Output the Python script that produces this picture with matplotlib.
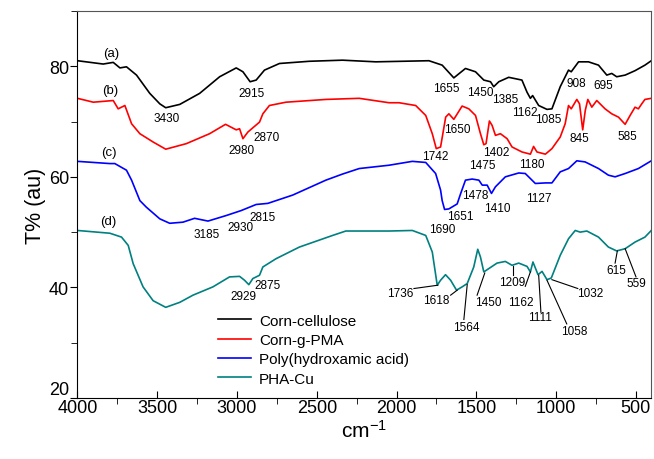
import numpy as np
import matplotlib.pyplot as plt
from matplotlib.ticker import MultipleLocator

plt.rcParams['font.family'] = ['Liberation Sans', 'DejaVu Sans']
plt.rcParams['mathtext.default'] = 'regular'

# Wavenumbers (cm-1) and transmittance
wn_a = [4000, 3839, 3776, 3734, 3693, 3630, 3547, 3484, 3447, 3359, 3234, 3109, 3005, 2963,
        2918, 2880, 2828, 2734, 2547, 2339, 2130, 1797, 1714, 1641, 1568, 1505, 1453, 1411,
        1391, 1359, 1297, 1214, 1182, 1161, 1147, 1109, 1057, 1026, 974, 922, 905, 859, 797,
        734, 682, 651, 620, 567, 505, 443, 403]
t_a = [81.0, 80.4, 80.7, 79.7, 79.9, 78.4, 75.1, 73.2, 72.5, 73.1, 75.1, 78.1, 79.7, 79.0,
       77.2, 77.5, 79.3, 80.5, 80.9, 81.1, 80.8, 81.0, 80.2, 77.9, 79.6, 79.0, 77.5, 77.2,
       76.3, 77.2, 78.0, 77.5, 75.3, 74.2, 74.7, 72.9, 72.2, 72.3, 76.3, 79.3, 79.0, 80.8, 80.8,
       80.2, 78.4, 78.7, 78.1, 78.4, 79.2, 80.2, 81.0]

wn_b = [4000, 3901, 3776, 3745, 3703, 3661, 3609, 3526, 3447, 3318, 3172, 3072, 3005, 2984,
        2963, 2932, 2859, 2838, 2797, 2693, 2443, 2234, 2047, 1984, 1880, 1817, 1776, 1751,
        1724, 1692, 1672, 1641, 1589, 1547, 1505, 1474, 1453, 1439, 1418, 1401, 1380, 1349,
        1307, 1276, 1214, 1161, 1141, 1120, 1067, 1026, 974, 943, 922, 905, 870, 853, 833,
        817, 801, 776, 745, 693, 651, 609, 567, 536, 505, 484, 463, 443, 403]
t_b = [74.2, 73.5, 73.8, 72.3, 72.9, 69.6, 67.8, 66.3, 65.0, 66.0, 67.8, 69.5, 68.5, 68.7,
       66.9, 68.1, 69.9, 71.4, 72.9, 73.5, 74.0, 74.2, 73.4, 73.4, 72.9, 71.1, 67.8, 65.1,
       65.4, 70.8, 71.4, 70.4, 72.8, 72.3, 71.1, 67.8, 65.8, 66.0, 70.1, 69.3, 67.5, 67.8,
       66.9, 65.4, 64.5, 64.1, 65.5, 64.5, 64.1, 65.1, 67.2, 69.6, 72.9, 72.3, 74.0, 73.2, 68.5,
       72.0, 74.0, 72.6, 73.8, 72.3, 71.4, 70.8, 69.5, 71.1, 72.6, 72.3, 73.2, 74.0, 74.2]

wn_c = [4000, 3797, 3766, 3693, 3661, 3609, 3568, 3484, 3422, 3339, 3266, 3182, 3068, 2974,
        2880, 2807, 2651, 2443, 2339, 2234, 2047, 1901, 1817, 1755, 1724, 1714, 1699, 1672,
        1620, 1599, 1568, 1526, 1484, 1463, 1432, 1405, 1380, 1318, 1234, 1193, 1130, 1067,
        1026, 974, 922, 870, 818, 734, 672, 630, 567, 484, 403]
t_c = [62.8, 62.4, 62.4, 61.2, 59.4, 55.7, 54.5, 52.4, 51.6, 51.8, 52.5, 52.0, 53.0, 53.9,
       55.0, 55.2, 56.7, 59.4, 60.5, 61.5, 62.1, 62.8, 62.6, 60.6, 57.6, 55.7, 54.1, 54.2,
       55.1, 56.9, 59.4, 59.6, 59.4, 58.5, 58.5, 57.0, 58.2, 60.0, 60.7, 60.6, 58.8, 58.9,
       58.9, 60.9, 61.5, 62.9, 62.7, 61.5, 60.3, 60.0, 60.6, 61.5, 62.9]

wn_d = [4000, 3797, 3724, 3682, 3651, 3589, 3526, 3447, 3359, 3276, 3151, 3047, 2984, 2953,
        2926, 2901, 2859, 2838, 2755, 2609, 2401, 2318, 2047, 1901, 1817, 1776, 1745, 1724,
        1693, 1661, 1624, 1589, 1557, 1516, 1491, 1474, 1453, 1422, 1370, 1318, 1276, 1234,
        1182, 1161, 1145, 1113, 1088, 1057, 1030, 974, 922, 880, 849, 807, 734, 672, 620,
        567, 505, 443, 403]
t_d = [50.3, 49.8, 49.1, 47.6, 44.3, 40.1, 37.6, 36.4, 37.3, 38.6, 40.1, 41.9, 42.0, 41.3,
       40.5, 41.6, 42.2, 43.7, 45.2, 47.3, 49.4, 50.2, 50.2, 50.3, 49.4, 46.4, 40.4, 41.3,
       42.3, 41.3, 39.5, 40.1, 40.7, 43.7, 46.9, 45.5, 42.8, 43.4, 44.4, 44.7, 44.0, 44.4,
       43.8, 42.8, 44.6, 42.3, 42.9, 41.4, 41.7, 45.8, 48.8, 50.3, 50.0, 50.2, 49.1, 47.3, 46.6,
       47.0, 48.2, 49.1, 50.3]

names = ['Corn-cellulose', 'Corn-g-PMA', 'Poly(hydroxamic acid)', 'PHA-Cu']
colors = ['black', 'red', 'blue', '#008080']

# peak labels: (text, x, y)
peaks = [
    ('(a)', 3786, 82.4), ('3430', 3439, 70.7), ('2915', 2908, 75.2), ('1655', 1686, 76.0),
    ('1450', 1474, 75.4), ('1385', 1318, 74.0), ('1162', 1193, 71.7), ('1085', 1047, 70.4),
    ('908', 870, 77.0), ('695', 707, 76.6),
    ('(b)', 3797, 75.7), ('2980', 2974, 64.8), ('2870', 2814, 67.2), ('1742', 1755, 63.7),
    ('1650', 1620, 68.7), ('1475', 1463, 62.1), ('1402', 1376, 64.5), ('1180', 1151, 62.3),
    ('845', 853, 67.0), ('585', 553, 67.3),
    ('(c)', 3803, 64.5), ('3185', 3189, 49.7), ('2930', 2978, 50.9), ('2815', 2843, 52.7),
    ('1690', 1714, 50.6), ('1651', 1599, 52.9), ('1478', 1505, 56.8), ('1410', 1370, 54.4),
    ('1127', 1109, 56.2),
    ('(d)', 3807, 52.0), ('2929', 2959, 38.4), ('2875', 2807, 40.5),
]
# leader-line labels on PHA-Cu: (text, text x, text y, line start x, y, line end x, y)
leaders = [
    ('1736', 1980, 39.0, 1891, 39.8, 1741, 40.4),
    ('1618', 1751, 37.8, 1661, 38.6, 1620, 39.5),
    ('1564', 1564, 32.8, 1578, 34.2, 1557, 40.5),
    ('1450', 1422, 37.3, 1495, 38.6, 1447, 42.6),
    ('1209', 1276, 41.0, 1270, 42.2, 1270, 43.8),
    ('1162', 1224, 37.3, 1193, 40.2, 1161, 42.8),
    ('1111', 1103, 34.6, 1095, 35.5, 1109, 42.2),
    ('1058', 884, 32.1, 933, 33.4, 1057, 41.3),
    ('1032', 786, 39.0, 864, 39.8, 1026, 41.4),
    ('615', 624, 43.2, 630, 44.4, 616, 46.6),
    ('559', 495, 40.8, 499, 41.9, 567, 47.0),
]

fig = plt.figure(figsize=(6.54, 4.6), dpi=100)
ax = fig.add_axes([0.1185, 0.1326, 0.8769, 0.8414])

for wn, t, name, c in zip([wn_a, wn_b, wn_c, wn_d], [t_a, t_b, t_c, t_d], names, colors):
    ax.plot(wn, t, color=c, lw=1.2, label=name)

for txt, x, y in peaks:
    fs = 9.5 if txt.startswith('(') else 8.5
    ax.text(x, y, txt, ha='center', va='center', fontsize=fs)

for txt, tx, ty, x0, y0, x1, y1 in leaders:
    ax.text(tx, ty, txt, ha='center', va='center', fontsize=8.5)
    ax.plot([x0, x1], [y0, y1], color='black', lw=0.8)

ax.set_xlim(4000, 405)
ax.set_ylim(20, 90)
ax.xaxis.set_major_locator(MultipleLocator(500))
ax.xaxis.set_minor_locator(MultipleLocator(250))
ax.set_yticks([20, 40, 60, 80])
ax.yaxis.set_minor_locator(MultipleLocator(10))
ax.tick_params(axis='x', which='major', direction='in', length=5, labelsize=13, pad=0.5)
ax.tick_params(axis='x', which='minor', direction='out', length=4)
ax.tick_params(axis='y', which='major', direction='out', length=5, labelsize=13, pad=1)
ax.tick_params(axis='y', which='minor', direction='out', length=4)
# lift the "20" label clear of the "4000" below it
ax.get_yticklabels()[0].set_verticalalignment('bottom')
for s in ['top', 'right']:
    ax.spines[s].set_color('#555555')
ax.set_xlabel('cm$^{-1}$', fontsize=15, labelpad=2)
ax.set_ylabel('T% (au)', fontsize=15.5, labelpad=2)

ax.legend(loc='upper left', bbox_to_anchor=(0.231, 0.238), frameon=False, fontsize=11,
          handlelength=2.2, handletextpad=0.5, labelspacing=0.35, borderpad=0)

fig.savefig('out.png', dpi=100)
